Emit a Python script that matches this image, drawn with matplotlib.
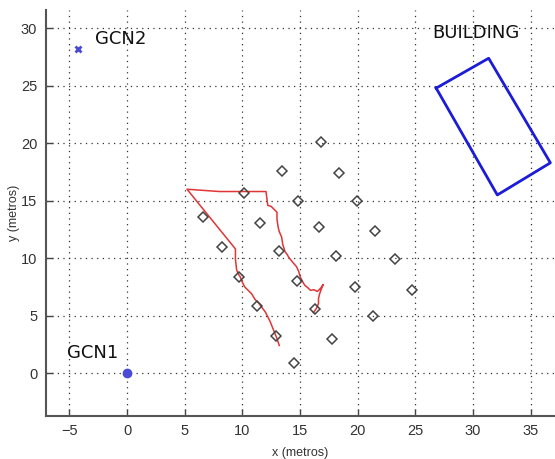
import numpy as np
import matplotlib.pyplot as plt

# nodos sensores (rombos)
nodes_x = [16.8, 13.4, 18.4, 10.1, 14.8, 19.9, 6.6, 11.5, 16.6, 21.5, 8.2, 13.2,
           18.1, 23.2, 9.7, 14.7, 19.8, 24.7, 11.3, 16.3, 21.3, 12.9, 17.8, 14.5]
nodes_y = [20.1, 17.6, 17.4, 15.7, 15.0, 15.0, 13.6, 13.1, 12.7, 12.4, 11.0, 10.6,
           10.2, 9.9, 8.4, 8.0, 7.5, 7.2, 5.8, 5.6, 5.0, 3.2, 3.0, 0.9]

# trayectoria (rojo)
path_x = [13.2, 13.0, 12.8, 12.6, 12.4, 12.2, 12.0, 11.7, 11.4, 11.1, 10.8, 10.5,
          10.2, 10.0, 9.8, 9.6, 9.5, 9.4, 9.4, 5.2, 8.0, 12.05, 12.2, 12.5, 12.7,
          13.0, 13.0, 13.1, 13.2, 13.4, 13.5, 13.7, 13.9, 14.0, 14.4, 14.7, 14.9,
          15.0, 15.2, 15.4, 15.7, 15.9, 16.2, 16.5, 16.8, 17.0, 16.8, 16.7, 16.6,
          16.6, 16.4, 16.15]
path_y = [2.4, 3.0, 3.5, 4.0, 4.5, 4.9, 5.3, 5.7, 6.1, 6.4, 6.9, 7.2,
          7.5, 7.9, 8.4, 8.7, 9.0, 9.9, 10.8, 16.0, 15.8, 15.8, 14.6, 14.5, 14.3,
          14.0, 13.4, 12.7, 12.3, 11.85, 11.2, 10.55, 10.3, 10.1, 9.6, 9.25, 8.8,
          8.4, 8.0, 7.65, 7.4, 7.2, 7.25, 7.1, 7.4, 7.7, 7.2, 6.9, 6.5,
          6.05, 5.6, 5.25]

# edificio
bld_x = [26.8, 31.35, 36.7, 32.1, 26.8]
bld_y = [24.8, 27.4, 18.3, 15.5, 24.8]

gcn1 = (0.0, 0.0)
gcn2 = (-4.25, 28.2)

xticks = [-5, 0, 5, 10, 15, 20, 25, 30, 35]
yticks = [0, 5, 10, 15, 20, 25, 30]

fig = plt.figure(figsize=(5.55, 4.59), dpi=100)
ax = fig.add_axes([0.0823, 0.0937, 0.9177, 0.8845])

ax.plot(path_x, path_y, color='#e03535', lw=1.1)
ax.plot(nodes_x, nodes_y, linestyle='none', marker='D', markersize=5,
        markerfacecolor='none', markeredgecolor='#444444', markeredgewidth=1.1)
ax.plot(bld_x, bld_y, color='#1c1cd8', lw=2)
ax.plot(*gcn1, marker='o', color='#4a4ad8', markersize=6)
ax.plot(*gcn2, marker='x', color='#4a4ad8', markersize=5, markeredgewidth=2)

ax.text(-2.8, 29.1, 'GCN2', fontsize=13, va='center', ha='left', color='#111111')
ax.text(26.5, 29.6, 'BUILDING', fontsize=13, va='center', ha='left', color='#111111')
ax.text(-5.2, 1.7, 'GCN1', fontsize=13, va='center', ha='left', color='#111111')

ax.set_xlim(-7.05, 37.1)
ax.set_ylim(-3.74, 31.6)
ax.set_xticks(xticks)
ax.set_yticks(yticks)
ax.grid(True, linestyle=(0, (1, 3.5)), color='#333333', lw=0.9)
ax.tick_params(direction='in', length=5, width=1, color='#444444',
               labelsize=10.5, labelcolor='#333333', pad=6)
for lab in ax.get_xticklabels() + ax.get_yticklabels():
    lab.set_family('Liberation Sans')
for s in ['top', 'right']:
    ax.spines[s].set_visible(False)
for s in ['left', 'bottom']:
    ax.spines[s].set_color('#555555')
    ax.spines[s].set_linewidth(1.5)

ax.set_xlabel('x (metros)', fontsize=9, color='#333333', labelpad=6,
              family='Liberation Sans')
ax.set_ylabel('y (metros)', fontsize=9, color='#333333', labelpad=1,
              family='Liberation Sans')

fig.savefig('out.png', dpi=100)
